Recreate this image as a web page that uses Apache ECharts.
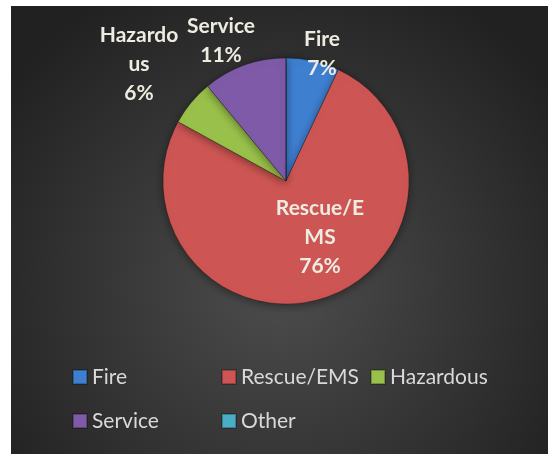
<!DOCTYPE html>
<html>
<head>
<meta charset="utf-8">
<script src="https://cdn.jsdelivr.net/npm/echarts@6/dist/echarts.min.js"></script>
<style>
html,body{margin:0;padding:0;background:#fff;width:548px;height:454px;overflow:hidden;}
#chart{position:absolute;left:11px;top:6px;width:537px;height:448px;}
</style>
</head>
<body>
<div id="chart"></div>
<script>
// Data
const categories = ['Fire', 'Rescue/EMS', 'Hazardous', 'Service', 'Other'];
const values = [7, 76, 6, 11, 0];
const labelNames = ['Fire', 'Rescue/E\nMS', 'Hazardo\nus', 'Service', 'Other'];
const colors = ['#3f7fd0', '#cd5654', '#98c04a', '#7f5aa8', '#4bacc6'];

// label anchor positions (container px)
const labelPos = [[311, 48], [309, 231], [128, 58], [210, 35], null];

const chart = echarts.init(document.getElementById('chart'), null, {renderer: 'canvas'});

const data = categories.map((c, i) => ({
  name: c,
  value: values[i],
  itemStyle: {color: colors[i]},
  label: {show: values[i] > 0}
}));

chart.setOption({
  animation: false,
  backgroundColor: {
    type: 'radial', x: 0.5, y: 0.62, r: 0.75,
    colorStops: [
      {offset: 0, color: '#4d4d4d'},
      {offset: 1, color: '#212121'}
    ]
  },
  legend: {
    data: categories,
    left: 61,
    top: 349,
    width: 450,
    padding: 0,
    itemGap: 0,
    itemWidth: 14,
    itemHeight: 14,
    icon: 'rect',
    textStyle: {
      color: '#d9d9d9',
      fontFamily: 'Lato',
      fontSize: 21,
      width: 129,
      lineHeight: 44
    }
  },
  series: [{
    type: 'pie',
    center: [275, 175],
    radius: 123,
    startAngle: 90,
    clockwise: true,
    percentPrecision: 0,
    data: data,
    itemStyle: {
      borderColor: 'rgba(0,0,0,0.25)',
      borderWidth: 1,
      shadowBlur: 8,
      shadowColor: 'rgba(0,0,0,0.4)',
      shadowOffsetY: 2
    },
    label: {
      show: true,
      position: 'inside',
      formatter: function (p) { return labelNames[p.dataIndex] + '\n' + p.percent + '%'; },
      color: '#eeece1',
      fontFamily: 'Lato',
      fontWeight: 'bold',
      fontSize: 21,
      lineHeight: 29,
      align: 'center'
    },
    labelLine: {show: false},
    labelLayout: function (params) {
      const p = labelPos[params.dataIndex];
      if (!p) return {};
      return {x: p[0], y: p[1], align: 'center', verticalAlign: 'middle'};
    }
  }]
});
</script>
</body>
</html>
